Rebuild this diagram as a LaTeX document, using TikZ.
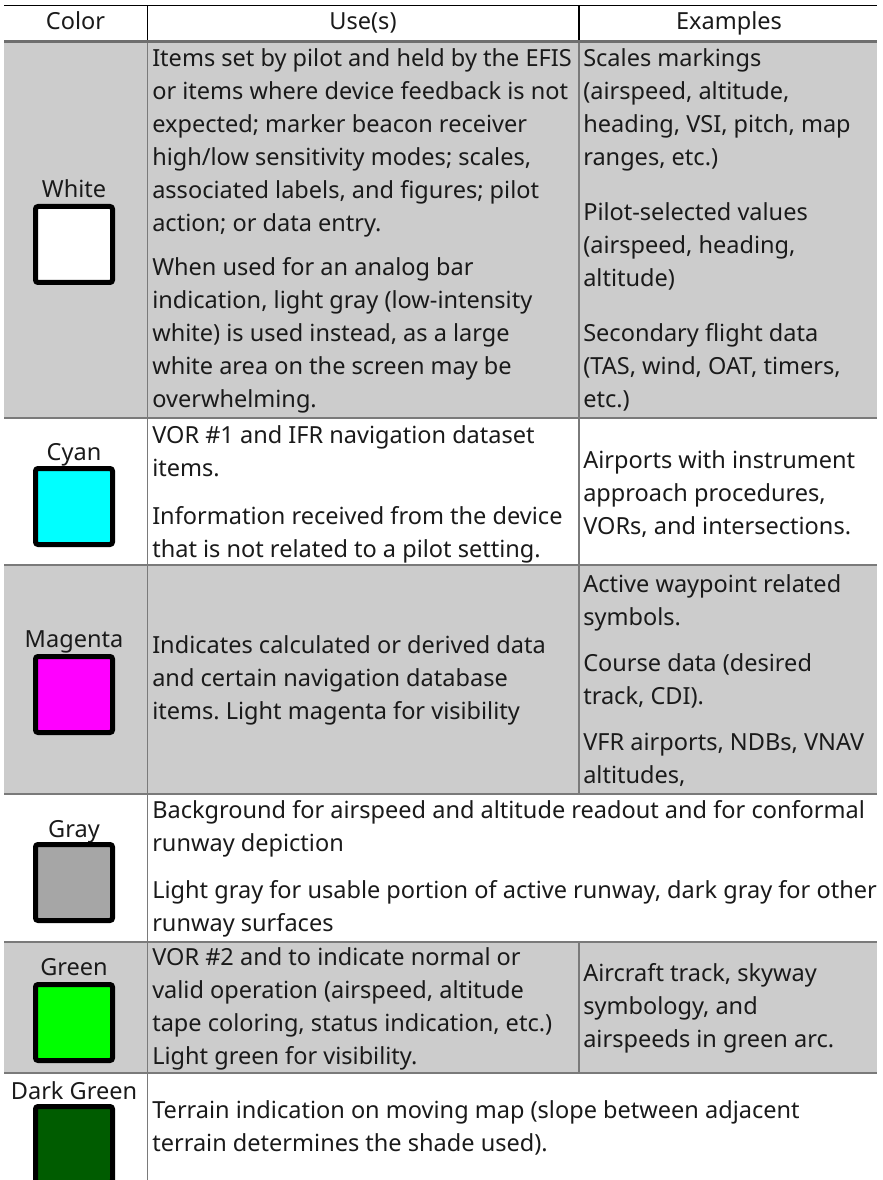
\documentclass[tikz,border=0pt]{standalone}
\usepackage{fontspec}
\setmainfont{Noto Sans}
\frenchspacing
\definecolor{rowgray}{HTML}{CCCCCC}
\definecolor{rulegray}{HTML}{7A7A7A}
\definecolor{headrule}{HTML}{6E6E6E}
\definecolor{swgray}{HTML}{A6A6A6}
\definecolor{swgreen}{HTML}{00FF00}
\definecolor{swdark}{HTML}{005C00}
\definecolor{swcyan}{HTML}{00FFFF}
\definecolor{swmag}{HTML}{FF00FF}
\definecolor{ink}{HTML}{1A1A1A}
\newcommand{\cellfont}{\fontsize{17.65pt}{24.75pt}\selectfont\frenchspacing}
\begin{document}
\begin{tikzpicture}[x=0.75pt,y=-0.75pt,
  cell/.style={anchor=north west, inner sep=0pt, align=left, font=\cellfont, text=ink},
  lbl/.style={anchor=base, inner sep=0pt, font=\cellfont, text=ink},
  swatch/.style={draw=black, line width=3.75pt, rounded corners=1.9pt, minimum width=57.75pt, minimum height=57pt, inner sep=0pt},
  rowline/.style={draw=rulegray, line width=1.1pt},
  headline/.style={draw=black, line width=1pt},
]
\useasboundingbox (0,0) rectangle (882,1180);
\clip (0,0) rectangle (882,1180);
% row backgrounds
\fill[rowgray] (4,42) rectangle (877,418);
\fill[rowgray] (4,565) rectangle (877,794);
\fill[rowgray] (4,942) rectangle (877,1073);
% rules
\draw[headline] (4,5.3) -- (877,5.3);
\draw[headline] (147.3,5.3) -- (147.3,40);
\draw[headline] (579,5.3) -- (579,40);
\draw[draw=headrule, line width=2.3pt] (4,41.2) -- (877,41.2);
\foreach \yy in {418,565,794,942,1073} \draw[rowline] (4,\yy) -- (877,\yy);
\draw[rowline] (147.3,42.7) -- (147.3,1180);
\draw[rowline] (579,42.7) -- (579,794);
\draw[rowline] (579,942) -- (579,1073);
% header
\node[lbl] (hColor) at (75.5,30) {Color};
\node[lbl] (hUse) at (363,30) {Use(s)};
\node[lbl] (hEx) at (729,30) {Examples};
% colour labels and swatches
\node[lbl] (lWhite) at (74,198) {White};
\node[swatch, fill=white] (sWhite) at (74,244.5) {};
\node[lbl] (lCyan) at (74,460) {Cyan};
\node[swatch, fill=swcyan] (sCyan) at (74,506.5) {};
\node[lbl] (lMag) at (74,647) {Magenta};
\node[swatch, fill=swmag] (sMag) at (74,694.5) {};
\node[lbl] (lGray) at (74,837) {Gray};
\node[swatch, fill=swgray] (sGray) at (74,882.5) {};
\node[lbl] (lGreen) at (74,975) {Green};
\node[swatch, fill=swgreen] (sGreen) at (74,1022.5) {};
\node[lbl] (lDark) at (74,1099) {Dark Green};
\node[swatch, fill=swdark] (sDark) at (74,1144.5) {};
% uses / examples
\node[cell] (uWhite) at (152,43) {\strut Items set by pilot and held by the EFIS\\or items where device feedback is not\\expected; marker beacon receiver\\high/low sensitivity modes; scales,\\associated labels, and figures; pilot\\action; or data entry.\\[8.25pt]When used for an analog bar\\indication, light gray (low-intensity\\white) is used instead, as a large\\white area on the screen may be\\overwhelming.};
\node[cell] (eWhite) at (583,43) {\strut Scales markings\\(airspeed, altitude,\\heading, VSI, pitch, map\\ranges, etc.)\\[16.5pt]Pilot-selected values\\(airspeed, heading,\\altitude)\\[16.5pt]Secondary flight data\\(TAS, wind, OAT, timers,\\etc.)};
\node[cell] (uCyan) at (152,420) {\strut VOR \#1 and IFR navigation dataset\\items.\\[11.25pt]Information received from the device\\that is not related to a pilot setting.};
\node[cell] (eCyan) at (583,445) {\strut Airports with instrument\\approach procedures,\\VORs, and intersections.};
\node[cell] (uMag) at (152,630) {\strut Indicates calculated or derived data\\and certain navigation database\\items. Light magenta for visibility};
\node[cell] (eMag) at (583,569) {\strut Active waypoint related\\symbols.\\[9.75pt]Course data (desired\\track, CDI).\\[9.75pt]VFR airports, NDBs, VNAV\\altitudes,};
\node[cell] (uGray) at (152,795) {\strut Background for airspeed and altitude readout and for conformal\\runway depiction\\[10.5pt]Light gray for usable portion of active runway, dark gray for other\\runway surfaces};
\node[cell] (uGreen) at (152,942) {\strut VOR \#2 and to indicate normal or\\valid operation (airspeed, altitude\\tape coloring, status indication, etc.)\\Light green for visibility.};
\node[cell] (eGreen) at (583,958) {\strut Aircraft track, skyway\\symbology, and\\airspeeds in green arc.};
\node[cell] (uDark) at (152,1095) {\strut Terrain indication on moving map (slope between adjacent\\terrain determines the shade used).};
\end{tikzpicture}
\end{document}
